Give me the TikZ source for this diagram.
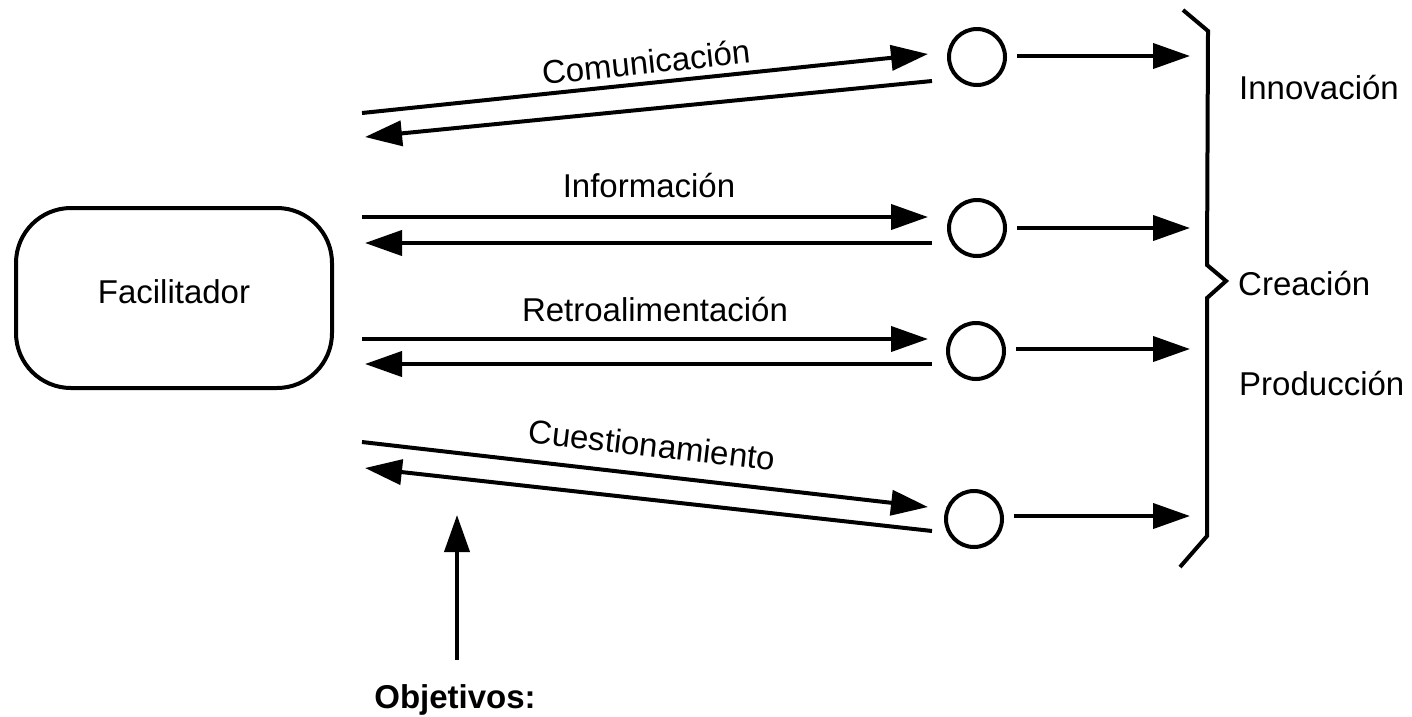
\documentclass[tikz,border=0pt]{standalone}
\usepackage{fontspec}
\setmainfont{Liberation Sans}
\usetikzlibrary{arrows.meta}
\begin{document}
\begin{tikzpicture}[x=1pt,y=-1pt,
  ln/.style={line width=4pt},
  arr/.style={ln,-{Triangle[length=37pt,width=25pt]}},
  lbl/.style={font=\fontsize{33}{38}\selectfont,inner sep=0pt},
  ring/.style={circle,draw,line width=4pt,minimum size=56pt,inner sep=0pt}]
\useasboundingbox (0,0) rectangle (1412,716);
\fill[white] (0,0) rectangle (1412,716);
% Facilitador
\node[draw,ln,rounded corners=55pt,minimum width=316pt,minimum height=180pt,inner sep=0pt] (fac) at (174,298) {};
\node[lbl] (factxt) at (174,292) {Facilitador};
% circles
\node[ring] (c1) at (977,57) {};
\node[ring] (c2) at (977,228) {};
\node[ring] (c3) at (976,351) {};
\node[ring] (c4) at (974,519) {};
% row 1
\coordinate (a1) at (362,113); \coordinate (b1) at (928,54);
\coordinate (p1) at (932,81); \coordinate (q1) at (365,137);
\draw[arr] (a1) -- (b1);
\draw[arr] (p1) -- (q1);
\node[lbl,rotate=6] (t1) at (646,62) {Comunicación};
% row 2
\coordinate (a2) at (362,217); \coordinate (b2) at (928,217);
\coordinate (p2) at (932,243); \coordinate (q2) at (365,243);
\draw[arr] (a2) -- (b2);
\draw[arr] (p2) -- (q2);
\node[lbl] (t2) at (649,186) {Información};
% row 3
\coordinate (a3) at (362,339); \coordinate (b3) at (928,339);
\coordinate (p3) at (932,364); \coordinate (q3) at (365,364);
\draw[arr] (a3) -- (b3);
\draw[arr] (p3) -- (q3);
\node[lbl] (t3) at (655,310) {Retroalimentación};
% row 4
\coordinate (a4) at (362,442); \coordinate (b4) at (928,507);
\coordinate (p4) at (932,531); \coordinate (q4) at (365,468);
\draw[arr] (a4) -- (b4);
\draw[arr] (p4) -- (q4);
\node[lbl,rotate=-6.5] (t4) at (652,445) {Cuestionamiento};
% right arrows
\coordinate (r1) at (1190,56);
\coordinate (r2) at (1190,228);
\coordinate (r3) at (1190,349);
\coordinate (r4) at (1190,516);
\draw[arr,shorten <=10pt] (c1.east |- r1) -- (r1);
\draw[arr,shorten <=10pt] (c2.east |- r2) -- (r2);
\draw[arr,shorten <=10pt] (c3.east |- r3) -- (r3);
\draw[arr,shorten <=10pt] (c4.east |- r4) -- (r4);
% brace
\draw[ln,line join=miter] (1183,10) -- (1208,31) -- (1207,265) -- (1226,281) -- (1207,298) -- (1207,536) -- (1180,567);
% outcome labels
\node[lbl,anchor=west] (o1) at (1239,88) {Innovación};
\node[lbl,anchor=west] (o2) at (1238,284) {Creación};
\node[lbl,anchor=west] (o3) at (1239,384) {Producción};
% objetivos
\node[lbl,font=\fontsize{33}{38}\selectfont\bfseries] (obj) at (455,700) {Objetivos:};
\coordinate (ob) at (457,660);
\coordinate (ot) at (457,515);
\draw[arr] (ob) -- (ot);
\end{tikzpicture}
\end{document}
